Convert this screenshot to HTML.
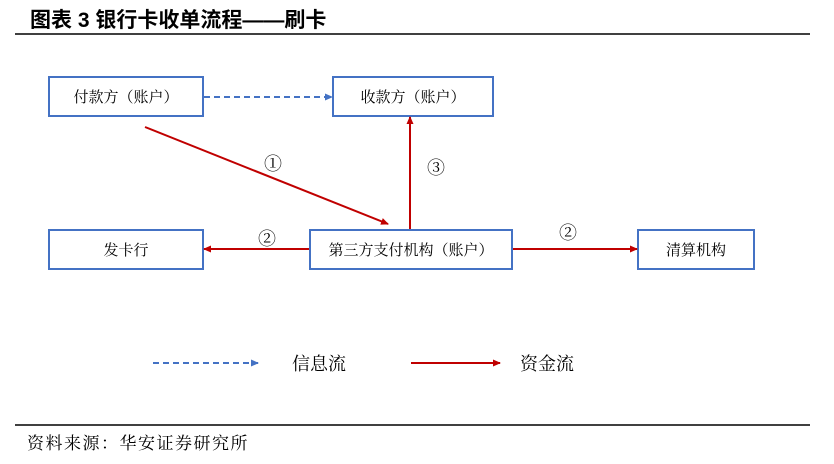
<!DOCTYPE html>
<html><head><meta charset="utf-8"><style>
body{margin:0;width:834px;height:464px;background:#fff;overflow:hidden}
svg{position:absolute;left:0;top:0}
text{font-family:"Liberation Serif","Noto Serif CJK SC",serif}
</style></head><body>
<svg width="834" height="464" viewBox="0 0 834 464">
<defs>
<marker id="r" markerWidth="8" markerHeight="8" refX="7" refY="4" orient="auto" markerUnits="userSpaceOnUse"><path d="M0,0.5 L8,4 L0,7.5z" fill="#c00000"/></marker>
<marker id="b" markerWidth="8" markerHeight="8" refX="7" refY="4" orient="auto" markerUnits="userSpaceOnUse"><path d="M0,0.5 L8,4 L0,7.5z" fill="#4472c4"/></marker>
</defs>
<text x="30" y="27" font-size="21" font-weight="bold" style="font-family:'Liberation Sans','Noto Sans CJK SC',sans-serif">图表 3 银行卡收单流程——刷卡</text>
<line x1="15" y1="34" x2="810" y2="34" stroke="#000" stroke-width="1.5"/>
<g fill="none" stroke="#4472c4" stroke-width="2">
<rect x="49" y="77" width="154" height="39"/>
<rect x="333" y="77" width="160" height="39"/>
<rect x="49" y="230" width="154" height="39"/>
<rect x="310" y="230" width="202" height="39"/>
<rect x="638" y="230" width="116" height="39"/>
</g>
<g font-size="15" text-anchor="middle" fill="#000">
<text x="126" y="102">付款方（账户）</text>
<text x="413" y="102">收款方（账户）</text>
<text x="126" y="255">发卡行</text>
<text x="411" y="255">第三方支付机构（账户）</text>
<text x="696" y="255">清算机构</text>
</g>
<line x1="204" y1="97" x2="332" y2="97" stroke="#4472c4" stroke-width="2" stroke-dasharray="6,4" marker-end="url(#b)"/>
<g stroke="#c00000" stroke-width="2">
<line x1="145" y1="127" x2="388" y2="224" marker-end="url(#r)"/>
<line x1="410" y1="229" x2="410" y2="117" marker-end="url(#r)"/>
<line x1="309" y1="249" x2="204" y2="249" marker-end="url(#r)"/>
<line x1="513" y1="249" x2="637" y2="249" marker-end="url(#r)"/>
<line x1="411" y1="363" x2="500" y2="363" marker-end="url(#r)"/>
</g>
<line x1="153" y1="363" x2="258" y2="363" stroke="#4472c4" stroke-width="2" stroke-dasharray="6,4" marker-end="url(#b)"/>
<g font-size="18" text-anchor="middle">
<text x="273" y="170">①</text>
<text x="436" y="174">③</text>
<text x="267" y="245">②</text>
<text x="568" y="239">②</text>
</g>
<text x="292" y="370" font-size="18">信息流</text>
<text x="520" y="370" font-size="18">资金流</text>
<line x1="15" y1="425" x2="810" y2="425" stroke="#000" stroke-width="1.5"/>
<text x="27" y="449" font-size="17" letter-spacing="1.5">资料来源：华安证券研究所</text>
</svg>
</body></html>
